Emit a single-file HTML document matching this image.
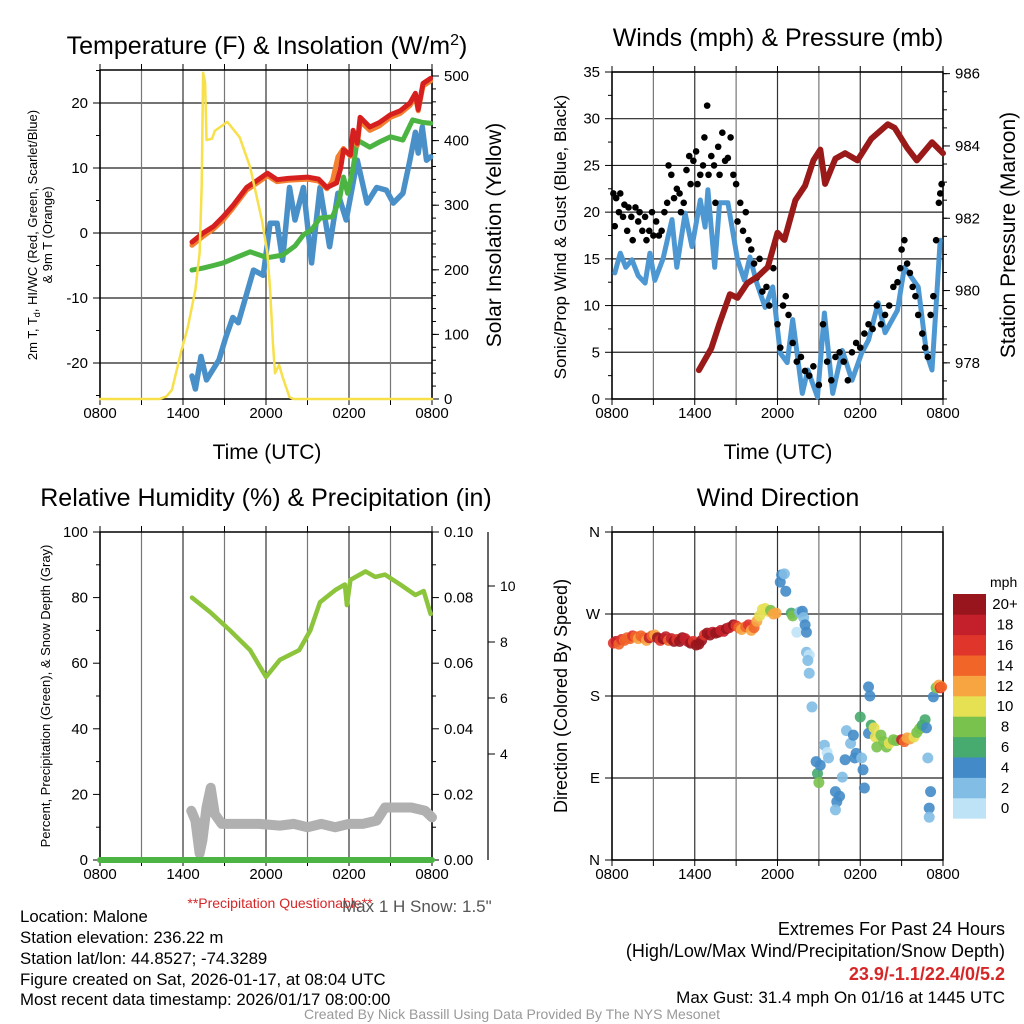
<!DOCTYPE html>
<html><head><meta charset="utf-8"><style>
html,body{margin:0;padding:0;background:#fff;}
svg{display:block;font-family:"Liberation Sans",Arial,sans-serif;}
</style></head><body>
<svg id="chart" width="1024" height="1024" viewBox="0 0 1024 1024" xmlns="http://www.w3.org/2000/svg">
<rect width="1024" height="1024" fill="#fff"/>
<text x="267" y="54" font-size="25" text-anchor="middle">Temperature (F) &amp; Insolation (W/m<tspan font-size="16" dy="-9">2</tspan><tspan dy="9">)</tspan></text>
<text x="778" y="46" font-size="25" text-anchor="middle">Winds (mph) &amp; Pressure (mb)</text>
<text x="266" y="506" font-size="25" text-anchor="middle">Relative Humidity (%) &amp; Precipitation (in)</text>
<text x="778" y="506" font-size="25" text-anchor="middle">Wind Direction</text>
<g id="g1"></g><g id="g2"></g><g id="g3"></g><g id="g4"></g>
<text x="267" y="459" font-size="21" text-anchor="middle">Time (UTC)</text>
<text x="778" y="459" font-size="21" text-anchor="middle">Time (UTC)</text>
<text font-size="13" text-anchor="middle" transform="translate(37,235) rotate(-90)">2m T, T<tspan font-size="9" dy="3">d</tspan><tspan dy="-3">, HI/WC (Red, Green, Scarlet/Blue)</tspan></text>
<text font-size="13" text-anchor="middle" transform="translate(52,235) rotate(-90)">&amp; 9m T (Orange)</text>
<text font-size="21" text-anchor="middle" transform="translate(501,235) rotate(-90)">Solar Insolation (Yellow)</text>
<text font-size="17" text-anchor="middle" transform="translate(566,237) rotate(-90)">Sonic/Prop Wind &amp; Gust (Blue, Black)</text>
<text font-size="21" text-anchor="middle" transform="translate(1015,235) rotate(-90)">Station Pressure (Maroon)</text>
<text font-size="13" text-anchor="middle" transform="translate(50,696) rotate(-90)">Percent, Precipitation (Green), &amp; Snow Depth (Gray)</text>
<text font-size="18" text-anchor="middle" transform="translate(567,696) rotate(-90)">Direction (Colored By Speed)</text>
<text x="280" y="908" font-size="14" fill="#d62728" text-anchor="middle">**Precipitation Questionable**</text>
<text x="342" y="912" font-size="17" fill="#555">Max 1 H Snow: 1.5"</text>
<g font-size="16.8">
<text x="20" y="922">Location: Malone</text>
<text x="20" y="943">Station elevation: 236.22 m</text>
<text x="20" y="964">Station lat/lon: 44.8527; -74.3289</text>
<text x="20" y="985">Figure created on Sat, 2026-01-17, at 08:04 UTC</text>
<text x="20" y="1005">Most recent data timestamp: 2026/01/17 08:00:00</text>
</g>
<g font-size="18" text-anchor="end">
<text x="1005" y="935">Extremes For Past 24 Hours</text>
<text x="1005" y="957">(High/Low/Max Wind/Precipitation/Snow Depth)</text>
<text x="1005" y="980" fill="#d62728" font-weight="bold">23.9/-1.1/22.4/0/5.2</text>
<text x="1005" y="1003" font-size="17">Max Gust: 31.4 mph On 01/16 at 1445 UTC</text>
</g>
<text x="512" y="1019" font-size="14" fill="#999" text-anchor="middle">Created By Nick Bassill Using Data Provided By The NYS Mesonet</text>
</svg>
<script>
// ---- data (hours after 0800 UTC) ----
const timeTickLabels = ["0800","1400","2000","0200","0800"];
const tempTicks = [-20,-10,0,10,20];
const solarTicks = [0,100,200,300,400,500];
const windTicks = [0,5,10,15,20,25,30,35];
const presTicks = [978,980,982,984,986];
const rhTicks = [0,20,40,60,80,100];
const precipTicks = ["0.00","0.02","0.04","0.06","0.08","0.10"];
const snowTicks = [4,6,8,10];
const dirTicks = ["N","E","S","W","N"];
const speedBins = ["0","2","4","6","8","10","12","14","16","18","20+"];
const speedColors = ["#bfe3f6","#82bde6","#428bc8","#47aa6e","#79c24d","#e6e053","#f7a541","#f16529","#e0352b","#c3202b","#98151d"];

const tempT = [[6.65,-1.4],[7.45,0],[8.2,1],[8.9,2.5],[9.6,4.2],[10.6,7],[11.3,8],[12.1,9.2],[12.8,8.2],[13.6,8.4],[15,8.6],[15.8,8.3],[16.4,7],[17.1,7.7],[17.4,10],[17.6,12.8],[18.1,12],[18.3,15.8],[18.6,13.8],[18.8,17.8],[19.5,16.3],[20.2,17],[21,18.2],[21.7,18.8],[22.4,20],[22.8,21.5],[23,19],[23.35,23],[23.9,23.8]];
const temp9m = [[6.65,-1.9],[7.45,-0.5],[8.2,0.6],[8.9,2],[9.6,3.8],[10.6,6.6],[11.3,7.6],[12.1,8.8],[12.8,7.9],[13.6,8.1],[15,8.3],[15.8,8],[16.4,6.8],[16.8,8],[17.2,11.7],[17.6,13],[18.1,11.8],[18.3,15],[18.6,13.5],[18.8,17.2],[19.5,15.8],[20.2,16.5],[21,17.8],[21.7,18.4],[22.4,19.6],[22.8,21],[23,18.8],[23.35,22.6],[23.9,23.4]];
const tempHI = [[6.65,-5.7],[7.45,-5.4],[8.2,-5],[8.9,-4.6],[9.8,-3.8],[10.85,-2.9],[12.1,-3.8],[13.2,-3.4],[14.1,-2],[14.7,-0.3],[15.3,0.5],[15.9,2.3],[16.8,2.5],[17.3,5],[17.6,8.6],[17.9,6.1],[18.3,10],[18.6,14.3],[19.5,13.2],[20.2,14],[21,14.8],[21.9,14.3],[22.6,17.4],[23.35,17],[23.9,16.9]];
const tempTd = [[6.65,-22],[6.9,-24],[7.3,-19],[7.7,-22.6],[8.6,-19.5],[9.1,-16],[9.6,-13],[10,-13.8],[11.1,-5.7],[11.8,-6.5],[12.3,1.5],[12.8,1.5],[13.2,-4.2],[13.7,7],[14.1,2],[14.7,7],[15.3,-4.6],[15.9,7],[16.6,-2.1],[17.2,6.1],[17.8,2],[18.6,11.2],[19.3,4.6],[20,7],[20.7,6.6],[21.2,4.6],[21.9,6.1],[22.4,11.2],[22.8,15.5],[23,12.3],[23.3,16.3],[23.6,11.2],[23.9,11.7]];
const solar = [[0,0],[4.3,0],[4.8,4],[5.2,14],[5.9,76],[6.35,111],[6.9,169],[7.2,226],[7.35,330],[7.45,505],[7.6,490],[7.7,401],[8.1,403],[8.3,415],[9.2,429],[10.1,405],[10.85,359],[11.7,277],[12.1,226],[12.3,169],[12.5,87],[12.65,40],[12.95,53],[13.2,34],[13.7,3],[14,0],[24,0]];

const windSpd = [[0.2,13.5],[0.6,15.6],[1,14.1],[1.45,14.9],[1.9,13.2],[2.4,12.4],[2.75,15.6],[3.1,12.7],[3.7,15],[4.35,19.2],[4.7,14.1],[5.3,19.9],[5.8,16.3],[6.4,21.3],[6.75,18.4],[6.95,22.4],[7.45,14.1],[7.8,21],[8.4,21],[9.1,14.9],[9.6,12.7],[10,15.2],[10.5,12.4],[11.1,9.8],[11.65,12],[12.2,4.9],[12.7,3.9],[13.1,8.5],[13.8,0.6],[14.2,3.1],[14.9,0.2],[15.4,9.2],[16,0.6],[16.7,5.2],[17.4,2],[18.1,4.9],[18.6,6.3],[19.3,10.3],[19.8,7.1],[20.7,9.5],[21.2,14.1],[22.2,12],[22.8,4.9],[23.2,3.1],[23.5,10],[23.8,17]];
const windGust = [[0.1,22],[0.2,18.5],[0.3,21.5],[0.5,20],[0.6,22],[0.8,19.5],[0.9,20.8],[1.1,18],[1.2,20.5],[1.4,19.5],[1.5,17],[1.7,20.5],[1.9,19],[2,20],[2.2,18],[2.4,19.5],[2.5,17],[2.7,18],[2.9,20],[3,17.5],[3.2,19],[3.4,17.5],[3.6,18],[3.8,20],[4,21],[4.1,25],[4.3,24],[4.5,21.5],[4.7,22.5],[4.9,22],[5,20],[5.2,21],[5.4,24.5],[5.6,26],[5.7,23],[5.9,25.5],[6.1,26.5],[6.2,23],[6.4,24],[6.6,25],[6.7,28],[6.9,31.4],[7,24],[7.2,26],[7.4,25],[7.5,21],[7.7,27],[7.8,24],[8,28.5],[8.2,25.5],[8.4,25.8],[8.6,28],[8.8,24],[9,23],[9.1,19],[9.3,21],[9.5,18],[9.7,20],[9.9,17],[10.1,16],[10.3,14.5],[10.5,13],[10.7,15],[10.9,11.5],[11.2,12],[11.4,10],[11.7,14],[12,8],[12.2,5.5],[12.4,10],[12.6,11],[12.8,9],[13.1,6],[13.4,4],[13.7,4.5],[14,3],[14.3,2.5],[14.6,3.5],[15,1.5],[15.3,8],[15.6,4],[15.9,2],[16.2,4.5],[16.5,5],[16.8,4],[17.1,2],[17.4,5],[17.7,6],[18,5.5],[18.3,7],[18.6,8],[18.9,7.5],[19.2,10],[19.5,8],[19.8,9],[20.1,10],[20.4,12],[20.7,12.5],[20.9,14],[21,16],[21.2,17],[21.4,14.5],[21.6,13.5],[21.8,12],[22,11],[22.2,9],[22.5,7],[22.7,5.5],[22.9,4.5],[23.1,9],[23.3,11],[23.5,17],[23.7,21],[23.8,22],[23.9,23]];
const pressure = [[6.3,977.8],[7.2,978.4],[7.8,979.1],[8.55,979.9],[9.1,979.8],[9.8,980.2],[10.6,980.4],[11.3,980.65],[12,981.6],[12.5,981.4],[13.3,982.5],[14,982.9],[14.6,983.6],[15.1,983.9],[15.45,982.95],[16.2,983.65],[16.9,983.8],[17.8,983.6],[18.8,984.2],[20,984.6],[20.5,984.5],[21.4,983.95],[22.1,983.6],[23.2,984.1],[24,983.8]];

const rh = [[6.65,80],[7.95,75.6],[9.4,70],[10.85,64],[12,55.8],[13,61],[14.4,64],[15.2,70],[15.9,78.6],[17,82.3],[17.7,84],[17.85,77.7],[18.1,85.4],[19.2,88],[19.9,86.3],[20.6,87],[21.7,84],[22.8,80.8],[23.4,82],[23.9,75]];
const snowGray = [[6.6,15],[6.9,12],[7.2,2],[7.4,6],[7.7,16],[8,22],[8.3,14],[8.8,11],[10,11],[11.5,11],[13,10.5],[14,11],[15,10],[16,11],[17,10],[18,11],[19,11],[20,12],[20.6,16],[21.5,16],[22.5,16],[23.5,15],[24,13]];
const precip = [[0,0],[24,0]];

const windDir = [[0.1,238,16],[0.3,240,18],[0.5,237,15],[0.7,242,16],[0.9,241,15],[1.1,244,14],[1.3,243,15],[1.5,246,16],[1.7,245,15],[1.9,243,12],[2.1,246,14],[2.3,244,15],[2.5,241,12],[2.7,244,18],[2.9,246,14],[3.1,247,13],[3.3,244,20],[3.5,241,16],[3.7,243,20],[3.9,245,18],[4.1,241,15],[4.3,243,18],[4.5,240,20],[4.7,242,16],[4.9,240,20],[5.1,244,20],[5.3,243,18],[5.5,240,18],[5.7,238,20],[5.9,240,16],[6.1,236,20],[6.3,237,20],[6.5,241,20],[6.7,247,16],[6.9,249,20],[7.1,247,20],[7.3,250,18],[7.5,249,20],[7.7,250,20],[7.9,252,18],[8.1,251,18],[8.3,254,20],[8.5,255,18],[8.8,258,20],[9.0,257,16],[9.2,255,14],[9.4,253,12],[9.7,256,14],[9.9,258,16],[10.1,252,12],[10.3,255,14],[10.5,262,12],[10.7,268,10],[10.9,275,10],[11.1,276,10],[11.3,273,10],[11.5,274,8],[11.7,270,12],[11.9,271,12],[12.2,305,4],[12.3,313,4],[12.5,314,2],[12.6,295,4],[13.0,271,6],[13.1,268,8],[13.4,250,0],[13.6,272,2],[13.8,273,4],[13.9,266,2],[14.0,258,4],[14.1,250,4],[14.1,228,2],[14.3,225,0],[14.2,219,2],[14.3,205,2],[14.5,168,2],[14.8,108,4],[14.9,95,6],[15.0,85,8],[15.1,104,4],[15.4,126,2],[15.6,118,0],[15.7,112,2],[16.2,75,4],[16.3,64,4],[16.2,55,2],[16.5,70,4],[16.7,91,2],[16.9,110,4],[17.0,142,2],[17.3,128,2],[17.5,137,4],[17.6,112,4],[17.7,117,4],[18.0,157,6],[18.1,112,2],[18.2,99,4],[18.3,79,4],[18.6,190,4],[18.7,180,4],[18.6,139,4],[18.8,148,6],[19.0,145,10],[19.1,135,10],[19.2,124,8],[19.5,137,8],[19.7,130,8],[19.9,124,8],[20.1,128,10],[20.4,132,8],[20.6,131,8],[21.0,132,18],[21.2,130,14],[21.4,134,12],[21.6,133,12],[21.9,135,10],[22.1,140,8],[22.3,144,8],[22.5,148,6],[22.7,154,6],[22.8,145,4],[22.9,112,2],[23.1,75,4],[23.0,57,4],[23.0,47,2],[23.3,179,4],[23.5,189,8],[23.7,192,12],[23.8,189,16],[23.9,190,14]];

// ---- helpers ----
const NS = "http://www.w3.org/2000/svg";
function mk(parent, tag, attrs){const e=document.createElementNS(NS,tag);for(const k in attrs)e.setAttribute(k,attrs[k]);parent.appendChild(e);return e;}
function pathFrom(pts, fx, fy){return pts.map((p,i)=>(i?"L":"M")+fx(p[0]).toFixed(1)+","+fy(p[1]).toFixed(1)).join("");}

function frame(g, L, T, R, B, name){
  for(let i=0;i<=8;i++){const x=L+(R-L)*i/8;const ln=mk(g,"line",{x1:x,y1:T,x2:x,y2:B,stroke:i%2?"#777":"#333","stroke-width":1.2});
    
    
    mk(g,"line",{x1:x,y1:B,x2:x,y2:B+6,stroke:"#000","stroke-width":1});
    mk(g,"line",{x1:x,y1:T,x2:x,y2:T-6,stroke:"#000","stroke-width":1});}
  const r=mk(g,"rect",{x:L,y:T,width:R-L,height:B-T,fill:"none",stroke:"#000","stroke-width":1.5});
  
  
  timeTickLabels.forEach((t,i)=>{const x=L+(R-L)*i/4;const tx=mk(g,"text",{x:x,y:B+19,"font-size":15,"text-anchor":"middle"});tx.textContent=t;
    
    });
}
function hgrid(g,L,R,y){mk(g,"line",{x1:L,y1:y,x2:R,y2:y,stroke:"#222","stroke-width":1.2});}
function ytick(g,x,y,label,side,fs){
  const d=side==="left"?-7:7;mk(g,"line",{x1:x,y1:y,x2:x+d,y2:y,stroke:"#000","stroke-width":1});
  const t=mk(g,"text",{x:side==="left"?x-12:x+12,y:y+5,"font-size":fs||15,"text-anchor":side==="left"?"end":"start"});t.textContent=label;
  
  
}
function line(g,pts,fx,fy,color,w,name){const p=mk(g,"path",{d:pathFrom(pts,fx,fy),fill:"none",stroke:color,"stroke-width":w,"stroke-linejoin":"round","stroke-linecap":"round"});
  
  return p;}

// ---- panel 1 ----
(function(){
  const g=document.getElementById("g1");const L=100,R=432,T=70,B=399;
  const fx=h=>L+(R-L)*h/24;
  const fy=v=>233-v*6.5;
  const fs=v=>399-v*0.646;
  tempTicks.forEach(v=>hgrid(g,L,R,fy(v)));
  frame(g,L,T,R,B,"temperature");
  tempTicks.forEach(v=>ytick(g,L,fy(v),String(v),"left"));
  for(let v=-25;v<=25;v+=5){if(v%10)mk(g,"line",{x1:L,y1:fy(v),x2:L-4,y2:fy(v),stroke:"#000"});}
  solarTicks.forEach(v=>ytick(g,R,fs(v),String(v),"right"));
  for(let v=0;v<=500;v+=20){mk(g,"line",{x1:R,y1:fs(v),x2:R+4,y2:fs(v),stroke:"#000"});}
  line(g,tempTd,fx,fy,"#4a90c8",5.5,"dewpoint-line");
  line(g,tempHI,fx,fy,"#4cb443",5,"wind-chill-line");
  line(g,temp9m,fx,fy,"#f28030",5,"temp-9m-line");
  line(g,tempT,fx,fy,"#d62020",5,"temp-2m-line");
  line(g,solar,fx,fs,"#f7e04a",2.5,"solar-line");
})();

// ---- panel 2 ----
(function(){
  const g=document.getElementById("g2");const L=612,R=943,T=72,B=399;
  const fx=h=>L+(R-L)*h/24;
  const fy=v=>399-v*9.343;
  const fp=p=>399-(p-977)*36.15;
  windTicks.forEach(v=>hgrid(g,L,R,fy(v)));
  frame(g,L,T,R,B,"winds");
  windTicks.forEach(v=>ytick(g,L,fy(v),String(v),"left"));
  for(let v=2.5;v<35;v+=5)mk(g,"line",{x1:L,y1:fy(v),x2:L-4,y2:fy(v),stroke:"#000"});
  presTicks.forEach(v=>ytick(g,R,fp(v),String(v),"right"));
  for(let v=977;v<=986;v+=0.5)mk(g,"line",{x1:R,y1:fp(v),x2:R+4,y2:fp(v),stroke:"#000"});
  line(g,windSpd,fx,fy,"#4d98d2",5,"wind-speed-line");
  windGust.forEach(p=>{const c=mk(g,"circle",{cx:fx(p[0]),cy:fy(p[1]),r:3.3,fill:"#000"});
    
    });
  line(g,pressure,fx,fp,"#9a1a1a",6,"pressure-line");
})();

// ---- panel 3 ----
(function(){
  const g=document.getElementById("g3");const L=100,R=432,T=532,B=860;
  const fx=h=>L+(R-L)*h/24;
  const fy=v=>860-v*3.28;
  frame(g,L,T,R,B,"humidity");
  rhTicks.forEach(v=>ytick(g,L,fy(v),String(v),"left"));
  for(let v=10;v<100;v+=20)mk(g,"line",{x1:L,y1:fy(v),x2:L-4,y2:fy(v),stroke:"#000"});
  precipTicks.forEach((t,i)=>ytick(g,R,fy(i*20),t,"right"));
  for(let v=10;v<100;v+=20)mk(g,"line",{x1:R,y1:fy(v),x2:R+4,y2:fy(v),stroke:"#000"});
  const sa=mk(g,"line",{x1:488,y1:T,x2:488,y2:B,stroke:"#000","stroke-width":1.2});
  
  
  const fsn=s=>866-s*28;
  snowTicks.forEach(v=>ytick(g,488,fsn(v),String(v),"right",14));
  line(g,snowGray,fx,fy,"#b0b0b0",10,"snow-depth-line");
  line(g,precip,fx,fy,"#4cb443",6,"precip-line");
  line(g,rh,fx,fy,"#8cc43c",4.5,"rh-line");
})();

// ---- panel 4 ----
(function(){
  const g=document.getElementById("g4");const L=612,R=943,T=532,B=860;
  const fx=h=>L+(R-L)*h/24;
  const fd=d=>860-d*328/360;
  dirTicks.forEach((t,i)=>hgrid(g,L,R,fd(i*90)));
  frame(g,L,T,R,B,"direction");
  dirTicks.forEach((t,i)=>ytick(g,L,fd(i*90),t,"left"));
  windDir.forEach(p=>{const bin=Math.min(10,Math.floor(p[2]/2));
    const c=mk(g,"circle",{cx:fx(p[0]),cy:fd(p[1]),r:5.5,fill:speedColors[bin],"fill-opacity":0.9});
    
    });
  const lt=mk(g,"text",{x:990,y:587,"font-size":14});lt.textContent="mph";
  
  
  const bh=20.4;
  speedBins.forEach((s,i)=>{const k=10-i;const y=594+k*bh;
    const r=mk(g,"rect",{x:953,y:y,width:33,height:bh+0.3,fill:speedColors[i]});
    
    
    const t=mk(g,"text",{x:1005,y:y+bh/2+5,"font-size":15,"text-anchor":"middle"});t.textContent=s;
    
    });
})();
</script>
</body></html>
